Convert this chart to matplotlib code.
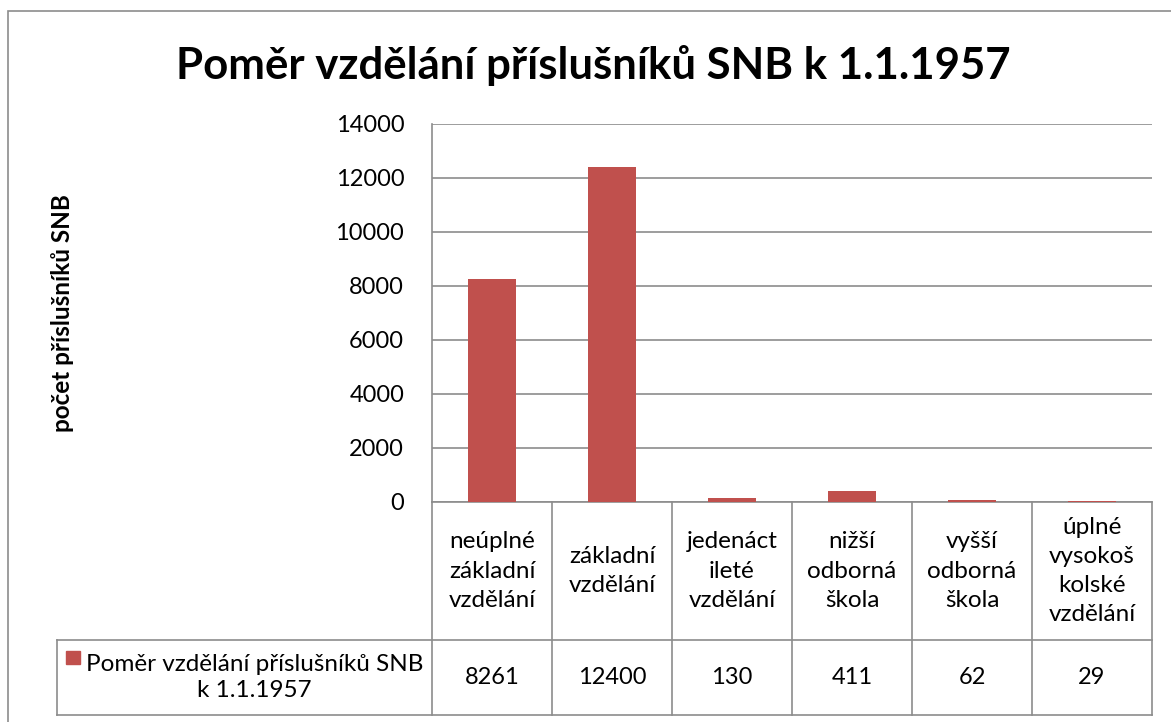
import matplotlib.pyplot as plt
from matplotlib.patches import Rectangle

plt.rcParams['font.family'] = ['Lato', 'DejaVu Sans']

# data
kategorie = ['neúplné\nzákladní\nvzdělání', 'základní\nvzdělání', 'jedenáct\nileté\nvzdělání',
             'nižší\nodborná\nškola', 'vyšší\nodborná\nškola', 'úplné\nvysokoš\nkolské\nvzdělání']
pocty = [8261, 12400, 130, 411, 62, 29]
nazev_rady = 'Poměr vzdělání příslušníků SNB\nk 1.1.1957'
titulek = 'Poměr vzdělání příslušníků SNB k 1.1.1957'

W, H = 1171, 722
fig = plt.figure(figsize=(W / 100, H / 100), dpi=100)

# okraj grafu
fig.patches.append(Rectangle((8 / W, -0.1), 1.2, 1 - 11 / H + 0.1, transform=fig.transFigure,
                             fill=False, edgecolor='#8c8c8c', linewidth=1.2))

ax = fig.add_axes([432 / W, 1 - 502 / H, (1152 - 432) / W, (502 - 124) / H])
barva = '#C0504D'
sed = '#8c8c8c'
n = len(kategorie)
fs = 17
ax.bar(range(n), pocty, width=0.4, color=barva, zorder=3)
ax.set_xlim(-0.5, n - 0.5)
ax.set_ylim(0, 14000)
ax.set_yticks(range(0, 14001, 2000))
ax.set_xticks([])
ax.tick_params(axis='y', length=0, pad=20, labelsize=fs)
ax.yaxis.grid(True, color=sed, linewidth=1.2, zorder=0)
for s in ['top', 'right']:
    ax.spines[s].set_visible(False)
ax.spines['left'].set_color(sed)
ax.spines['bottom'].set_color(sed)
ax.spines['left'].set_linewidth(1.2)
ax.spines['bottom'].set_linewidth(1.2)

ax.set_ylabel('počet příslušníků SNB', fontsize=17.5, fontweight='bold', va='center')
ax.yaxis.set_label_coords((62 - 432) / 720, (502 - 313) / 378)
fig.text(0.507, 1 - 66 / H, titulek, fontsize=31.5, fontweight='bold', ha='center', va='center')

# tabulka dat pod grafem
tr = ax.get_xaxis_transform()
px = 378  # vyska osy v px
y_head = -(640 - 502) / px
y_bot = -(715 - 502) / px
x_leg = (54 - 432) / 121 - 0.5
kw = dict(transform=tr, clip_on=False, color=sed, linewidth=1.2)
for i in range(n + 1):
    ax.plot([i - 0.5, i - 0.5], [0, y_bot], **kw)
ax.plot([x_leg, n - 0.5], [y_head, y_head], **kw)
ax.plot([x_leg, n - 0.5], [y_bot, y_bot], **kw)
ax.plot([x_leg, x_leg], [y_head, y_bot], **kw)

for i, (k, v) in enumerate(zip(kategorie, pocty)):
    ax.text(i, y_head / 2, k, transform=tr, ha='center', va='center', fontsize=17.5,
            linespacing=1.48)
    ax.text(i, (y_head + y_bot) / 2, str(v), transform=tr, ha='center', va='center', fontsize=fs)

x_sq = (63 - 432) / 121 - 0.5
ax.add_patch(Rectangle((x_sq, -(664 - 502) / px), 14 / 121, 13 / px, transform=tr,
                       clip_on=False, color=barva))
ax.text((253 - 432) / 121 - 0.5, (y_head + y_bot) / 2, nazev_rady, transform=tr,
        ha='center', va='center', fontsize=17.5, linespacing=1.32)

fig.savefig('out.png', dpi=100)
